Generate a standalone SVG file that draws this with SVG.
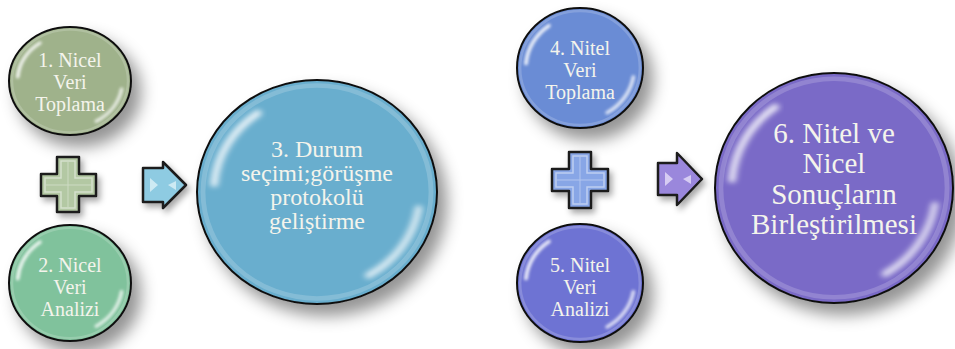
<svg xmlns="http://www.w3.org/2000/svg" xmlns:xlink="http://www.w3.org/1999/xlink" width="955" height="349" viewBox="0 0 955 349">
<defs>
<filter id="shadow" x="-30%" y="-30%" width="170%" height="170%">
<feGaussianBlur in="SourceAlpha" stdDeviation="8" result="b"/>
<feOffset in="b" dx="9" dy="11" result="o"/>
<feFlood flood-color="#000" flood-opacity="0.42"/>
<feComposite in2="o" operator="in" result="s"/>
<feMerge><feMergeNode in="s"/><feMergeNode in="SourceGraphic"/></feMerge>
</filter>
<filter id="soft" x="-20%" y="-20%" width="140%" height="140%">
<feGaussianBlur stdDeviation="2.5"/>
</filter>
<filter id="small" x="-30%" y="-30%" width="160%" height="160%">
<feGaussianBlur in="SourceAlpha" stdDeviation="3" result="b"/>
<feOffset in="b" dx="3" dy="4" result="o"/>
<feFlood flood-color="#000" flood-opacity="0.35"/>
<feComposite in2="o" operator="in" result="s"/>
<feMerge><feMergeNode in="s"/><feMergeNode in="SourceGraphic"/></feMerge>
</filter>
<g id="gloss">
<path d="M -85.7 -7.5 A 86 86 0 0 1 -49.3 -70.4" fill="none" stroke="#fff" stroke-width="6" stroke-linecap="round" opacity="0.85" filter="url(#soft)"/>
<path d="M 84.7 14.9 A 86 86 0 0 1 43 74.5" fill="none" stroke="#fff" stroke-width="6" stroke-linecap="round" opacity="0.75" filter="url(#soft)"/>
<circle r="95" fill="none" stroke="#fff" stroke-width="4" opacity="0.18"/>
</g>
</defs>
<style>
.ball{stroke:#111;stroke-width:2}
.t{font-family:"Liberation Serif","DejaVu Serif",serif;fill:#f4f4ec;text-anchor:middle}
.t19{font-size:20px}
.t22{font-size:24px}
.t28{font-size:29px}
.sym{stroke:#1a1a1a;stroke-width:2.5;stroke-linejoin:round}
.inner{fill:none;stroke:#fff;stroke-width:1.5;opacity:0.45}
</style>
<rect width="955" height="349" fill="#fff"/>

<g id="n1">
<ellipse cx="70" cy="81" rx="61" ry="54" fill="#9fb28b" class="ball" filter="url(#shadow)"/>
<use xlink:href="#gloss" transform="translate(70,81) scale(0.61,0.54)"/>
<text class="t t19" x="70" y="67">1. Nicel</text>
<text class="t t19" x="70" y="89">Veri</text>
<text class="t t19" x="70" y="111">Toplama</text>
</g>

<g id="n2">
<ellipse cx="70" cy="283" rx="61" ry="58" fill="#80c29c" class="ball" filter="url(#shadow)"/>
<use xlink:href="#gloss" transform="translate(70,283) scale(0.61,0.58)"/>
<text class="t t19" x="70" y="272">2. Nicel</text>
<text class="t t19" x="70" y="294">Veri</text>
<text class="t t19" x="70" y="316">Analizi</text>
</g>

<g id="plus1" filter="url(#small)">
<path class="sym" fill="#b3c8a3" d="M57 157 H79 V174 H96 V196 H79 V212 H57 V196 H41 V174 H57 Z"/>
<path class="inner" d="M61 161 H75 V178 H92 V192 H75 V208 H61 V192 H45 V178 H61 Z"/>
<path d="M68 162 V207 M46 185 H91" stroke="#fff" stroke-width="1" opacity="0.35"/>
</g>

<g id="n3">
<ellipse cx="317" cy="192" rx="120" ry="112" fill="#69aece" class="ball" filter="url(#shadow)"/>
<use xlink:href="#gloss" transform="translate(317,192) scale(1.2,1.12)"/>
<text class="t t22" x="317" y="157">3. Durum</text>
<text class="t t22" x="317" y="181">seçimi;görüşme</text>
<text class="t t22" x="317" y="205">protokolü</text>
<text class="t t22" x="317" y="229">geliştirme</text>
</g>

<g id="n4">
<ellipse cx="580" cy="68" rx="63" ry="60" fill="#6a8cd5" class="ball" filter="url(#shadow)"/>
<use xlink:href="#gloss" transform="translate(580,68) scale(0.63,0.6)"/>
<text class="t t19" x="580" y="55">4. Nitel</text>
<text class="t t19" x="580" y="77">Veri</text>
<text class="t t19" x="580" y="99">Toplama</text>
</g>

<g id="n5">
<ellipse cx="580" cy="283" rx="63" ry="59" fill="#6e73d3" class="ball" filter="url(#shadow)"/>
<use xlink:href="#gloss" transform="translate(580,283) scale(0.63,0.59)"/>
<text class="t t19" x="580" y="272">5. Nitel</text>
<text class="t t19" x="580" y="294">Veri</text>
<text class="t t19" x="580" y="316">Analizi</text>
</g>

<g id="plus2" filter="url(#small)">
<path class="sym" fill="#88a6e6" d="M569 152 H591 V169 H608 V191 H591 V208 H569 V191 H552 V169 H569 Z"/>
<path class="inner" d="M573 156 H587 V173 H604 V187 H587 V204 H573 V187 H556 V173 H573 Z"/>
<path d="M580 157 V203 M557 180 H603" stroke="#fff" stroke-width="1" opacity="0.35"/>
</g>

<g id="n6">
<ellipse cx="834" cy="188" rx="119" ry="115" fill="#7a6bc7" class="ball" filter="url(#shadow)"/>
<use xlink:href="#gloss" transform="translate(834,188) scale(1.19,1.15)"/>
<text class="t t28" x="834" y="143">6. Nitel ve</text>
<text class="t t28" x="834" y="173">Nicel</text>
<text class="t t28" x="834" y="204">Sonuçların</text>
<text class="t t28" x="834" y="234">Birleştirilmesi</text>
</g>

<g id="connectors">
<g filter="url(#small)">
<path class="sym" fill="#8ecbe2" d="M143 168 H163 V162 L186 185 L163 208 V202 H143 Z"/>
<path d="M150 178 L158 185 L150 192 Z M168 185 L176 181 L176 190 Z" fill="#e8f6fb" opacity="0.7"/>
</g>
<g filter="url(#small)">
<path class="sym" fill="#9a87dc" d="M658 163 H677 V153 L702 179 L677 205 V195 H658 Z"/>
<path d="M665 172 L673 179 L665 186 Z M683 179 L691 175 L691 184 Z" fill="#efeafc" opacity="0.7"/>
</g>
</g>
</svg>
